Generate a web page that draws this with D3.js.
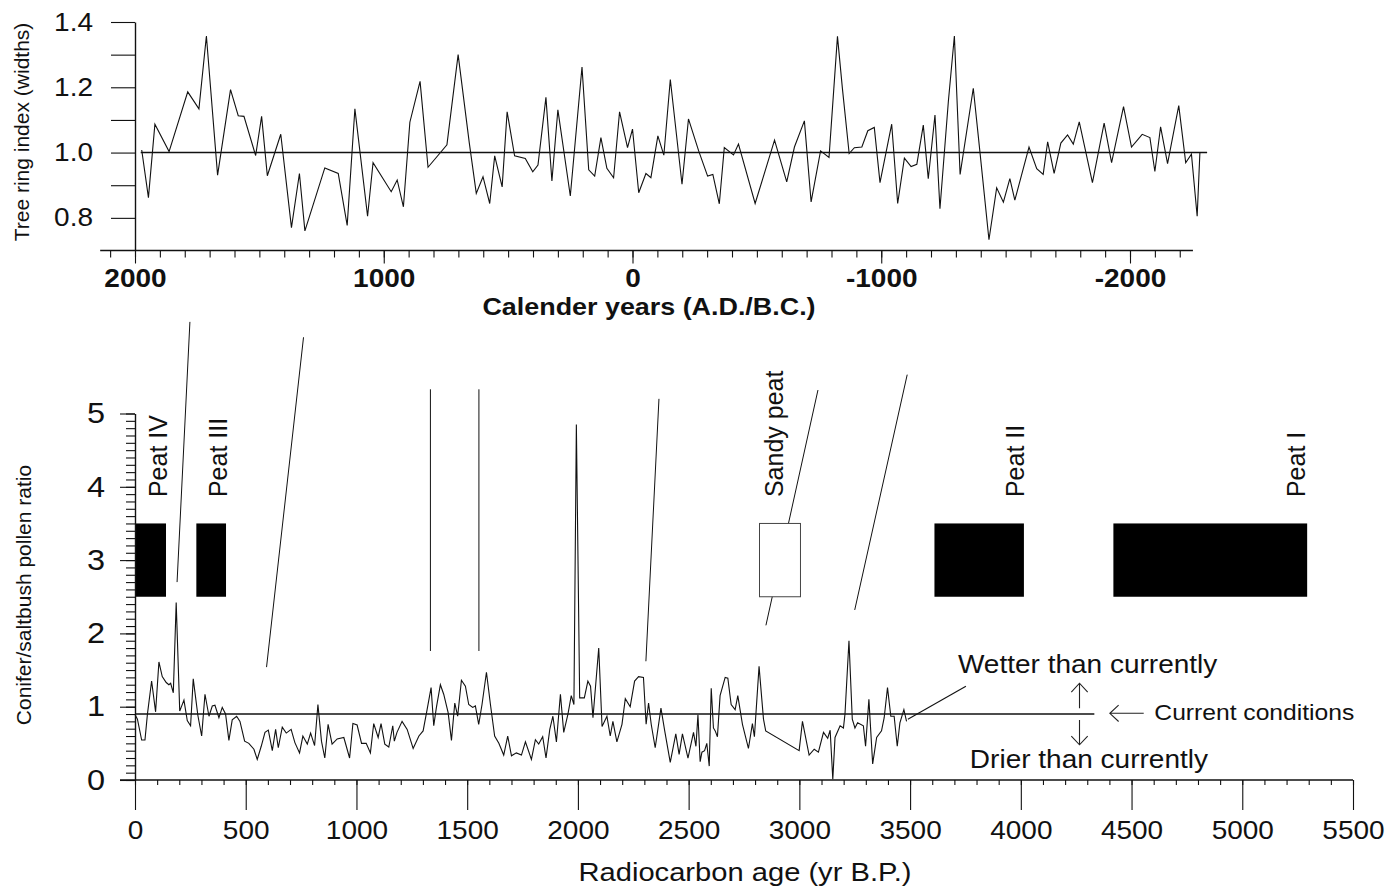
<!DOCTYPE html>
<html>
<head>
<meta charset="utf-8">
<script src="https://cdn.jsdelivr.net/npm/d3@7"></script>
<style>
  body { margin: 0; background: #fff; }
  svg { display: block; }
  text { font-family: "Liberation Sans", Arial, sans-serif; fill: #111; }
</style>
</head>
<body>
<div id="chart"></div>
<script>
// ---- tree ring series (calendar year A.D./B.C., index) ----
const ringYears = [1973,1946,1920,1863,1788,1743,1713,1668,1616,1585,1562,1515,1491,1468,1414,1371,1339,1317,1237,1183,
  1147,1116,1065,1043,970,946,921,895,854,822,746,701,656,628,601,574,554,524,504,474,431,401,380,348,324,300,250,203,
  176,152,127,103,76,52,20,0,-25,-54,-74,-102,-126,-152,-199,-225,-266,-302,-323,-349,-369,-406,-426,-493,-571,-620,
  -651,-691,-718,-756,-790,-824,-844,-871,-892,-922,-946,-972,-995,-1042,-1066,-1093,-1120,-1143,-1169,-1189,-1216,
  -1236,-1270,-1294,-1317,-1370,-1397,-1433,-1464,-1491,-1517,-1537,-1594,-1625,-1651,-1669,-1695,-1722,-1749,-1772,
  -1796,-1849,-1896,-1926,-1974,-2006,-2049,-2080,-2100,-2123,-2151,-2196,-2224,-2247,-2270,-2281];
const ringIndex = [1.008,0.862,1.087,1.003,1.186,1.134,1.357,0.931,1.193,1.113,1.111,0.991,1.111,0.929,1.056,0.770,
  0.936,0.760,0.953,0.936,0.777,1.134,0.805,0.969,0.880,0.916,0.834,1.093,1.218,0.955,1.024,1.300,1.029,0.875,0.926,
  0.844,0.990,0.895,1.125,0.990,0.982,0.941,0.962,1.169,0.913,1.131,0.867,1.262,0.947,0.928,1.046,0.952,0.923,1.125,
  1.015,1.072,0.877,0.936,0.923,1.051,0.992,1.224,0.903,1.103,1.005,0.928,0.933,0.843,1.015,0.993,1.026,0.844,1.038,
  0.910,1.017,1.097,0.849,1.005,0.985,1.356,1.195,0.997,1.015,1.017,1.067,1.077,0.908,1.087,0.844,0.983,0.957,0.964,
  1.084,0.920,1.115,0.828,1.159,1.357,0.933,1.197,1.000,0.733,0.892,0.848,0.920,0.854,1.017,0.951,0.933,1.033,0.936,
  1.029,1.054,1.026,1.094,0.908,1.090,0.969,1.141,1.017,1.056,1.046,0.942,1.079,0.966,1.144,0.969,0.995,0.805,1.000];
const ringRefLevel = 1.0;
const ringRefSpan = [1977, -2310];

// ---- pollen ratio series (radiocarbon yr B.P., conifer/saltbush ratio) ----
const pollenAge = [0,11,30,45,56,75,93,108,123,141,153,161,173,186,202,221,236,251,263,284,301,316,334,349,361,379,394,
  409,424,439,459,474,495,514,537,552,570,587,602,620,635,647,665,683,705,722,743,758,778,793,811,826,842,857,872,890,
  913,943,969,984,1003,1023,1044,1063,1078,1098,1111,1128,1146,1164,1171,1183,1206,1229,1256,1282,1301,1319,1337,1349,
  1361,1379,1394,1414,1429,1444,1457,1474,1492,1507,1525,1537,1552,1567,1587,1605,1624,1643,1665,1683,1700,1722,1745,
  1763,1790,1808,1823,1841,1856,1873,1887,1903,1921,1936,1955,1970,1982,1993,2008,2029,2045,2057,2068,2094,2109,2131,
  2146,2158,2176,2199,2214,2236,2256,2274,2296,2308,2319,2331,2349,2375,2392,2417,2442,2457,2472,2497,2522,2533,2542,
  2552,2560,2572,2582,2593,2602,2612,2620,2630,2642,2665,2677,2692,2710,2722,2743,2770,2788,2797,2818,2838,2848,2999,
  3014,3044,3067,3086,3109,3128,3139,3151,3161,3184,3199,3206,3224,3239,3251,3263,3289,3299,3314,3331,3349,3371,3383,
  3398,3413,3428,3442,3454,3472,3484];
const pollenRatio = [0.895,0.83,0.545,0.545,0.895,1.35,0.93,1.61,1.41,1.33,1.30,1.32,1.19,2.42,0.94,1.09,0.81,0.74,1.38,
  0.88,0.60,1.17,0.87,1.01,1.02,0.85,0.99,0.90,0.54,0.82,0.87,0.80,0.53,0.50,0.42,0.28,0.46,0.65,0.68,0.40,0.69,0.44,
  0.72,0.64,0.69,0.51,0.37,0.60,0.49,0.64,0.47,1.03,0.53,0.30,0.76,0.49,0.56,0.58,0.30,0.77,0.75,0.50,0.50,0.37,0.77,
  0.58,0.77,0.49,0.45,0.74,0.53,0.65,0.80,0.69,0.43,0.60,0.67,0.96,1.26,0.74,0.99,1.30,1.17,0.92,0.54,1.05,0.87,1.36,
  1.28,1.03,0.99,1.01,0.76,1.03,1.47,1.03,0.60,0.50,0.34,0.60,0.33,0.37,0.34,0.52,0.28,0.55,0.49,0.59,0.30,0.69,0.87,
  0.52,1.17,0.65,0.90,1.15,1.03,4.85,1.12,1.12,1.35,1.28,0.85,1.80,0.73,0.87,0.60,0.80,0.52,0.76,1.11,1.00,1.35,1.41,
  1.40,0.76,1.05,0.76,0.44,0.98,0.67,0.24,0.63,0.35,0.63,0.30,0.65,0.46,0.89,0.25,0.38,0.40,0.50,0.19,1.25,0.71,0.67,
  0.59,1.15,1.40,1.39,1.03,0.96,1.15,0.76,0.43,0.77,0.59,1.55,0.83,0.67,0.40,0.80,0.34,0.42,0.38,0.65,0.57,0.68,0.01,
  0.58,0.74,0.71,0.90,1.90,0.83,0.71,0.78,0.74,0.46,1.10,0.22,0.58,0.67,0.85,1.26,0.87,0.87,0.46,0.78,0.96,0.80];
const currentLevel = 0.9;
const currentSpan = [0, 4332];

// ---- peat units ----
const peatNames = ["Peat IV", "Peat III", "Sandy peat", "Peat II", "Peat I"];
const peatStart = [0, 277, 2820, 3610, 4418];
const peatEnd = [140, 411, 3005, 4014, 5293];
const peatLow = 2.5, peatHigh = 3.5;
const peatSandy = [false, false, true, false, false];
const peatLabelAge = [144, 415, 2926, 4014, 5282];
const peatLabelRatio = 3.86;

// ---- tie lines (age, ratio at top end -> age, ratio at bottom end) ----
const tieAgeTop = [248, 761, 1334, 1553, 2366, 3084, 3487];
const tieRatioTop = [6.25, 6.04, 5.33, 5.33, 5.20, 5.32, 5.53];
const tieAgeBottom = [190, 594, 1334, 1553, 2307, 2849, 3250];
const tieRatioBottom = [2.70, 1.54, 1.76, 1.76, 1.62, 2.11, 2.32];

// ---- ticks ----
const ringYearLabels = [2000, 1000, 0, -1000, -2000];
const ringYearMinor = d3.range(2100, -2201, -100);
const ringIndexTicks = [0.8, 0.9, 1.0, 1.1, 1.2, 1.3, 1.4];
const ringIndexLabels = [0.8, 1.0, 1.2, 1.4];
const ageLabels = [0, 500, 1000, 1500, 2000, 2500, 3000, 3500, 4000, 4500, 5000, 5500];
const ageMinor = d3.range(0, 5501, 100);
const ratioLabels = [0, 1, 2, 3, 4, 5];
const ratioMinor = d3.range(0, 51, 1).map(d => d / 10);

const W = 1400, H = 890;
const svg = d3.select("#chart").append("svg").attr("width", W).attr("height", H);
svg.append("rect").attr("width", W).attr("height", H).attr("fill", "#fff");

// horizontal stretch like the scanned lettering
function widen(sel, k) {
  sel.each(function () {
    const L = this.getComputedTextLength();
    d3.select(this).attr("textLength", L * k).attr("lengthAdjust", "spacingAndGlyphs");
  });
}

// ================= top panel: tree rings =================
const xT = d3.scaleLinear().domain([2000, -2000]).range([135, 1130]);
const yT = d3.scaleLinear().domain([0.7, 1.4]).range([250.5, 22]);

const ringPanel = svg.append("g");

// y axis
const yAxT = ringPanel.append("g").attr("transform", `translate(${xT(2000)},0)`)
  .call(d3.axisLeft(yT).tickValues(ringIndexTicks).tickSize(24).tickSizeOuter(0).tickPadding(18)
    .tickFormat(d => ringIndexLabels.some(v => Math.abs(v - d) < 1e-6) ? d3.format(".1f")(d) : ""));
yAxT.select(".domain").attr("stroke", "#111").attr("stroke-width", 1.4);
yAxT.selectAll(".tick line").attr("stroke", "#111").attr("stroke-width", 1.1);
yAxT.selectAll("text").attr("font-size", 25).attr("fill", "#111").style("font-family", "Liberation Sans, Arial, sans-serif");

// x axis
const xAxTminor = ringPanel.append("g").attr("transform", `translate(0,${yT(0.7)})`)
  .call(d3.axisBottom(xT).tickValues(ringYearMinor).tickSize(7).tickFormat(""));
xAxTminor.select(".domain").remove();
const xAxT = ringPanel.append("g").attr("transform", `translate(0,${yT(0.7)})`)
  .call(d3.axisBottom(xT).tickValues(ringYearLabels).tickSize(13).tickFormat(d => String(d)));
xAxT.select(".domain").remove();
ringPanel.selectAll(".tick line").attr("stroke", "#111").attr("stroke-width", 1.1);
xAxT.selectAll("text").attr("y", 36.5).attr("dy", 0).attr("font-size", 25).attr("font-weight", "bold")
  .attr("fill", "#111").style("font-family", "Liberation Sans, Arial, sans-serif");
ringPanel.append("line")
  .attr("x1", xT(2140)).attr("x2", xT(-2253)).attr("y1", yT(0.7)).attr("y2", yT(0.7))
  .attr("stroke", "#111").attr("stroke-width", 1.5);

// reference line and series
ringPanel.append("line")
  .attr("x1", xT(ringRefSpan[0])).attr("x2", xT(ringRefSpan[1]))
  .attr("y1", yT(ringRefLevel)).attr("y2", yT(ringRefLevel))
  .attr("stroke", "#111").attr("stroke-width", 1.6);
ringPanel.append("path")
  .datum(ringYears.map((y, i) => [y, ringIndex[i]]))
  .attr("fill", "none").attr("stroke", "#111").attr("stroke-width", 1.1).attr("stroke-linejoin", "miter")
  .attr("d", d3.line().x(d => xT(d[0])).y(d => yT(d[1])));

ringPanel.append("text").attr("class", "wide")
  .attr("x", 649).attr("y", 315).attr("text-anchor", "middle")
  .attr("font-size", 24).attr("font-weight", "bold").text("Calender years (A.D./B.C.)");
ringPanel.append("text")
  .attr("transform", "translate(29,132) rotate(-90)").attr("text-anchor", "middle")
  .attr("font-size", 21).text("Tree ring index (widths)");

// ================= bottom panel: pollen ratio =================
const xB = d3.scaleLinear().domain([0, 5500]).range([135, 1353]);
const yB = d3.scaleLinear().domain([0, 5]).range([780, 413.5]);

const pollenPanel = svg.append("g");

// tie lines
pollenPanel.selectAll("line.tie").data(tieAgeTop).enter().append("line").attr("class", "tie")
  .attr("x1", (d, i) => xB(tieAgeTop[i])).attr("y1", (d, i) => yB(tieRatioTop[i]))
  .attr("x2", (d, i) => xB(tieAgeBottom[i])).attr("y2", (d, i) => yB(tieRatioBottom[i]))
  .attr("stroke", "#111").attr("stroke-width", 1);

// peat boxes
pollenPanel.selectAll("rect.peat").data(peatNames).enter().append("rect").attr("class", "peat")
  .attr("x", (d, i) => xB(peatStart[i])).attr("width", (d, i) => xB(peatEnd[i]) - xB(peatStart[i]))
  .attr("y", yB(peatHigh)).attr("height", yB(peatLow) - yB(peatHigh))
  .attr("fill", (d, i) => peatSandy[i] ? "#fff" : "#000")
  .attr("stroke", (d, i) => peatSandy[i] ? "#444" : "none").attr("stroke-width", 1);
pollenPanel.selectAll("text.peat").data(peatNames).enter().append("text").attr("class", "peat")
  .attr("transform", (d, i) => `translate(${xB(peatLabelAge[i])},${yB(peatLabelRatio)}) rotate(-90)`)
  .attr("font-size", 25).text(d => d);

// y axis
const yAxBminor = pollenPanel.append("g").attr("transform", `translate(${xB(0)},0)`)
  .call(d3.axisLeft(yB).tickValues(ratioMinor).tickSize(9).tickSizeOuter(0).tickFormat(""));
yAxBminor.select(".domain").attr("stroke", "#111").attr("stroke-width", 1.4);
const yAxB = pollenPanel.append("g").attr("transform", `translate(${xB(0)},0)`)
  .call(d3.axisLeft(yB).tickValues(ratioLabels).tickSize(15).tickPadding(15).tickFormat(d3.format("d")));
yAxB.select(".domain").remove();
yAxB.selectAll("text").attr("font-size", 29).attr("fill", "#111").style("font-family", "Liberation Sans, Arial, sans-serif");

// x axis
const xAxBminor = pollenPanel.append("g").attr("transform", `translate(0,${yB(0)})`)
  .call(d3.axisBottom(xB).tickValues(ageMinor).tickSize(5).tickFormat(""));
xAxBminor.select(".domain").remove();
const xAxB = pollenPanel.append("g").attr("transform", `translate(0,${yB(0)})`)
  .call(d3.axisBottom(xB).tickValues(ageLabels).tickSize(30).tickFormat(d => String(d)));
xAxB.select(".domain").remove();
xAxB.selectAll("text").attr("y", 59).attr("dy", 0).attr("font-size", 25).attr("fill", "#111")
  .style("font-family", "Liberation Sans, Arial, sans-serif");
pollenPanel.selectAll(".tick line").attr("stroke", "#111").attr("stroke-width", 1.1);
pollenPanel.append("line")
  .attr("x1", xB(0) - 15).attr("x2", xB(5500)).attr("y1", yB(0)).attr("y2", yB(0))
  .attr("stroke", "#111").attr("stroke-width", 1.5);

// current conditions line and series
pollenPanel.append("line")
  .attr("x1", xB(currentSpan[0])).attr("x2", xB(currentSpan[1]))
  .attr("y1", yB(currentLevel)).attr("y2", yB(currentLevel))
  .attr("stroke", "#111").attr("stroke-width", 1.5);
pollenPanel.append("path")
  .datum(pollenAge.map((a, i) => [a, pollenRatio[i]]))
  .attr("fill", "none").attr("stroke", "#111").attr("stroke-width", 1.1)
  .attr("d", d3.line().x(d => xB(d[0])).y(d => yB(d[1])));

// annotations
const arrowAge = 4265;
const ah = 12; // arrowhead size
function arrow(x1, y1, x2, y2) {
  const a = Math.atan2(y2 - y1, x2 - x1);
  const p = d3.path();
  p.moveTo(x1, y1); p.lineTo(x2, y2);
  p.moveTo(x2 - ah * Math.cos(a - 0.75), y2 - ah * Math.sin(a - 0.75));
  p.lineTo(x2, y2);
  p.lineTo(x2 - ah * Math.cos(a + 0.75), y2 - ah * Math.sin(a + 0.75));
  pollenPanel.append("path").attr("d", p.toString()).attr("fill", "none").attr("stroke", "#222").attr("stroke-width", 1.1);
}
arrow(xB(arrowAge), yB(0.98), xB(arrowAge), yB(1.32));
arrow(xB(arrowAge), yB(0.82), xB(arrowAge), yB(0.48));
arrow(xB(4555), yB(0.91), xB(4402), yB(0.91));
pollenPanel.append("line")
  .attr("x1", xB(3752)).attr("y1", yB(1.28)).attr("x2", xB(3490)).attr("y2", yB(0.83))
  .attr("stroke", "#111").attr("stroke-width", 1.1);

pollenPanel.append("text").attr("class", "wide").attr("x", xB(3716)).attr("y", yB(1.46))
  .attr("font-size", 25).text("Wetter than currently");
pollenPanel.append("text").attr("class", "wide").attr("x", xB(3770)).attr("y", yB(0.164))
  .attr("font-size", 25).text("Drier than currently");
pollenPanel.append("text").attr("class", "wide").attr("x", xB(4603)).attr("y", yB(0.82))
  .attr("font-size", 22).text("Current conditions");

pollenPanel.append("text").attr("class", "wide")
  .attr("x", 745).attr("y", 881).attr("text-anchor", "middle")
  .attr("font-size", 26).text("Radiocarbon age (yr B.P.)");
pollenPanel.append("text")
  .attr("transform", "translate(31,595) rotate(-90)").attr("text-anchor", "middle")
  .attr("font-size", 21).text("Conifer/saltbush pollen ratio");

// stretch horizontal lettering
widen(svg.selectAll("text.wide"), 1.12);
widen(xAxT.selectAll("text"), 1.12);
widen(yAxT.selectAll("text").filter(function () { return this.textContent !== ""; }), 1.12);
widen(xAxB.selectAll("text"), 1.12);
widen(yAxB.selectAll("text"), 1.12);
</script>
</body>
</html>
